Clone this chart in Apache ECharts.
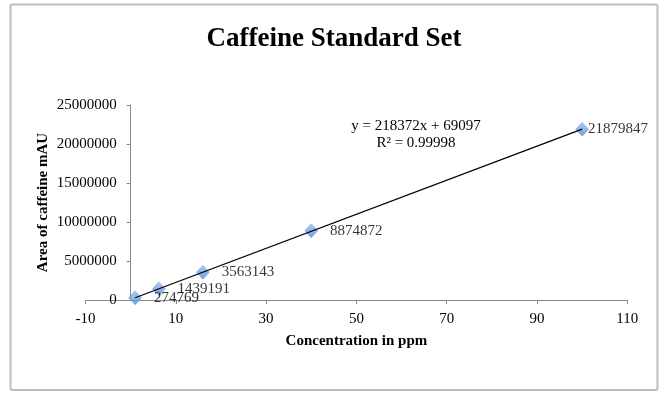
<!DOCTYPE html>
<html>
<head>
<meta charset="utf-8">
<title>Caffeine Standard Set</title>
<script src="https://cdn.jsdelivr.net/npm/echarts@6/dist/echarts.min.js"></script>
<style>
    html, body { margin: 0; padding: 0; background: #fff; }
    #chart { width: 668px; height: 399px; }
</style>
</head>
<body>
<div id="chart"></div>
<script>
// 浓度 (ppm) 与峰面积
const concentrations = [1, 6.25, 16, 40, 100];
const areas = [274769, 1439191, 3563143, 8874872, 21879847];

// 趋势线参数（图中公式）
const slope = 218372;
const intercept = 69097;
const rSquared = '0.99998';

// 坐标轴刻度 [min, max, interval]
const xTicks = [-10, 110, 20];
const yTicks = [0, 25000000, 5000000];

const serif = 'Liberation Serif';
const axisGray = '#888888';

// 网格位置；y 轴要落在 x = 0 处
const gridLeft = 85.5;
const gridRight = 40.7;
const plotWidth = 668 - gridLeft - gridRight;
const yAxisShift = plotWidth * (0 - xTicks[0]) / (xTicks[1] - xTicks[0]);

// 散点数据，最后一个标签贴近点（原图被边框挤压）
const points = concentrations.map((x, i) => {
    const item = { value: [x, areas[i]] };
    if (i === concentrations.length - 1) item.label = { distance: -1 };
    return item;
});

// 趋势线两端：最小与最大浓度
const xMin = Math.min(...concentrations);
const xMax = Math.max(...concentrations);
const trend = [[xMin, slope * xMin + intercept], [xMax, slope * xMax + intercept]];

const chart = echarts.init(document.getElementById('chart'));
chart.setOption({
    animation: false,
    title: {
        text: 'Caffeine Standard Set',
        left: 'center',
        top: 21,
        textStyle: { fontFamily: serif, fontWeight: 'bold', fontSize: 27, color: '#000' }
    },
    grid: { left: gridLeft, right: gridRight, top: 105, bottom: 99, outerBoundsMode: 'none', containLabel: false },
    xAxis: {
        type: 'value',
        min: xTicks[0],
        max: xTicks[1],
        interval: xTicks[2],
        name: 'Concentration in ppm',
        nameLocation: 'middle',
        nameGap: 34,
        nameMoveOverlap: false,
        nameTextStyle: { fontFamily: serif, fontWeight: 'bold', fontSize: 15, color: '#000' },
        axisLine: { lineStyle: { color: axisGray } },
        axisTick: { length: 4, lineStyle: { color: axisGray } },
        axisLabel: { fontFamily: serif, fontSize: 15, color: '#000', margin: 12 },
        splitLine: { show: false }
    },
    yAxis: {
        type: 'value',
        min: yTicks[0],
        max: yTicks[1],
        interval: yTicks[2],
        offset: -yAxisShift,
        name: 'Area of caffeine mAU',
        nameLocation: 'middle',
        nameGap: 80,
        nameMoveOverlap: false,
        nameTextStyle: { fontFamily: serif, fontWeight: 'bold', fontSize: 15, color: '#000' },
        axisLine: { show: true, onZero: false, lineStyle: { color: axisGray } },
        axisTick: { show: true, length: 4, lineStyle: { color: axisGray } },
        axisLabel: { fontFamily: serif, fontSize: 15, color: '#000', margin: 14, formatter: v => String(v) },
        splitLine: { show: false }
    },
    series: [
        {
            type: 'scatter',
            data: points,
            symbol: 'diamond',
            symbolSize: [13, 14],
            itemStyle: {
                color: new echarts.graphic.LinearGradient(0, 0, 0, 1, [
                    { offset: 0, color: '#9dc1ef' },
                    { offset: 1, color: '#4a85d6' }
                ]),
                borderColor: '#5f8fd0',
                borderWidth: 0.5
            },
            label: {
                show: true,
                position: 'right',
                distance: 12,
                fontFamily: serif,
                fontSize: 15,
                color: '#000',
                formatter: p => String(p.value[1])
            },
            z: 2
        },
        {
            type: 'line',
            data: trend,
            symbol: 'none',
            lineStyle: { color: '#000', width: 1.3 },
            z: 3
        }
    ],
    graphic: [
        {
            type: 'rect',
            shape: { x: 10.5, y: 4.5, width: 647, height: 385.5, r: 2 },
            style: { fill: 'none', stroke: '#bdbdbd', lineWidth: 2 },
            silent: true
        },
        {
            type: 'text',
            x: 416,
            y: 126,
            style: {
                text: `y = ${slope}x + ${intercept}`,
                font: `15px "${serif}"`,
                fill: '#000',
                align: 'center',
                verticalAlign: 'middle'
            }
        },
        {
            type: 'text',
            x: 416,
            y: 143,
            style: {
                text: `R² = ${rSquared}`,
                font: `15px "${serif}"`,
                fill: '#000',
                align: 'center',
                verticalAlign: 'middle'
            }
        }
    ]
});
</script>
</body>
</html>
